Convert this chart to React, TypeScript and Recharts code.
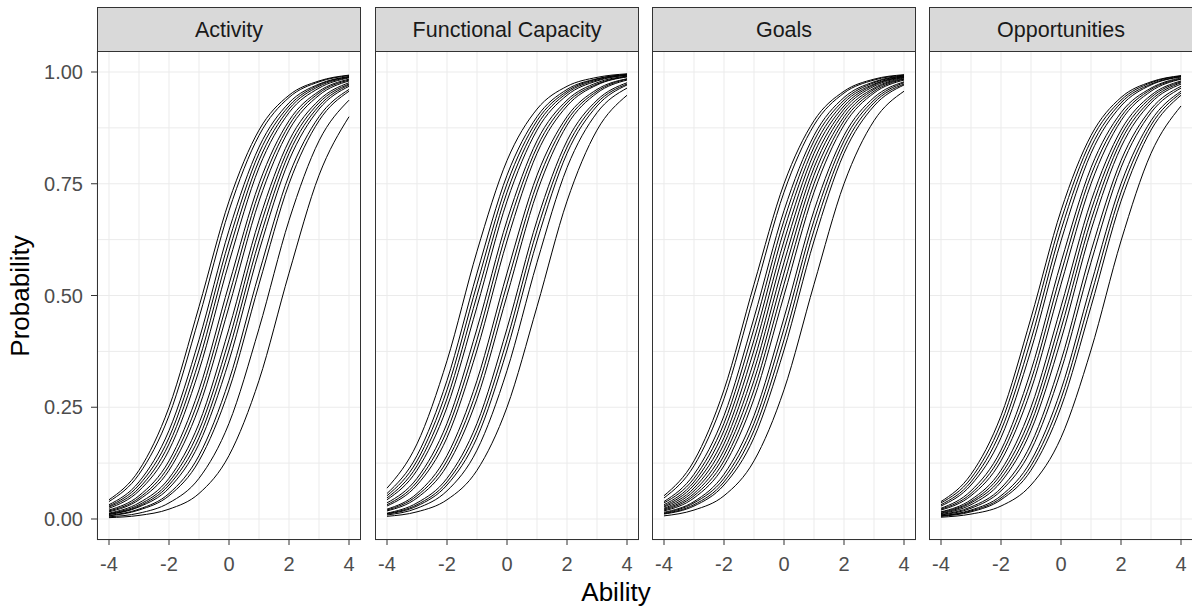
import React from 'react';
import { LineChart, Line, XAxis, YAxis, CartesianGrid } from 'recharts';

// Ability grid (x) at which each item characteristic curve was read
const abilities = [-4, -3, -2, -1, 0, 1, 2, 3, 4];
const facetNames = ['Activity', 'Functional Capacity', 'Goals', 'Opportunities'];
const xGridTicks = [-4, -3, -2, -1, 0, 1, 2, 3, 4];
const xLabelTicks = [-4, -2, 0, 2, 4];
const yGridTicks = [0, 0.125, 0.25, 0.375, 0.5, 0.625, 0.75, 0.875, 1];
const yLabelTicks = [0, 0.25, 0.5, 0.75, 1];

// Probability values per item (one array per curve), read at the abilities above
const activityCurves = [
  [0.043, 0.109, 0.250, 0.475, 0.711, 0.870, 0.948, 0.980, 0.993],
  [0.039, 0.100, 0.231, 0.450, 0.690, 0.858, 0.943, 0.978, 0.992],
  [0.032, 0.083, 0.198, 0.401, 0.646, 0.832, 0.931, 0.973, 0.990],
  [0.029, 0.076, 0.182, 0.378, 0.622, 0.818, 0.924, 0.971, 0.989],
  [0.027, 0.069, 0.168, 0.354, 0.599, 0.802, 0.917, 0.968, 0.988],
  [0.024, 0.063, 0.154, 0.332, 0.574, 0.786, 0.909, 0.964, 0.987],
  [0.020, 0.052, 0.130, 0.289, 0.525, 0.750, 0.891, 0.957, 0.984],
  [0.018, 0.047, 0.119, 0.269, 0.500, 0.731, 0.881, 0.953, 0.982],
  [0.016, 0.043, 0.109, 0.250, 0.475, 0.711, 0.870, 0.948, 0.980],
  [0.013, 0.036, 0.091, 0.214, 0.426, 0.668, 0.846, 0.937, 0.976],
  [0.012, 0.032, 0.083, 0.198, 0.401, 0.646, 0.832, 0.931, 0.973],
  [0.011, 0.029, 0.076, 0.182, 0.378, 0.622, 0.818, 0.924, 0.971],
  [0.010, 0.027, 0.069, 0.168, 0.354, 0.599, 0.802, 0.917, 0.968],
  [0.008, 0.022, 0.057, 0.142, 0.310, 0.550, 0.769, 0.900, 0.961],
  [0.007, 0.020, 0.052, 0.130, 0.289, 0.525, 0.750, 0.891, 0.957],
  [0.005, 0.013, 0.036, 0.091, 0.214, 0.426, 0.668, 0.846, 0.937],
  [0.003, 0.008, 0.022, 0.057, 0.142, 0.310, 0.550, 0.769, 0.900],
];

const functionalCurves = [
  [0.069, 0.168, 0.354, 0.599, 0.802, 0.917, 0.968, 0.988, 0.996],
  [0.057, 0.142, 0.310, 0.550, 0.769, 0.900, 0.961, 0.985, 0.995],
  [0.052, 0.130, 0.289, 0.525, 0.750, 0.891, 0.957, 0.984, 0.994],
  [0.047, 0.119, 0.269, 0.500, 0.731, 0.881, 0.953, 0.982, 0.993],
  [0.043, 0.109, 0.250, 0.475, 0.711, 0.870, 0.948, 0.980, 0.993],
  [0.036, 0.091, 0.214, 0.426, 0.668, 0.846, 0.937, 0.976, 0.991],
  [0.032, 0.083, 0.198, 0.401, 0.646, 0.832, 0.931, 0.973, 0.990],
  [0.029, 0.076, 0.182, 0.378, 0.622, 0.818, 0.924, 0.971, 0.989],
  [0.022, 0.057, 0.142, 0.310, 0.550, 0.769, 0.900, 0.961, 0.985],
  [0.020, 0.052, 0.130, 0.289, 0.525, 0.750, 0.891, 0.957, 0.984],
  [0.018, 0.047, 0.119, 0.269, 0.500, 0.731, 0.881, 0.953, 0.982],
  [0.013, 0.036, 0.091, 0.214, 0.426, 0.668, 0.846, 0.937, 0.976],
  [0.012, 0.032, 0.083, 0.198, 0.401, 0.646, 0.832, 0.931, 0.973],
  [0.011, 0.029, 0.076, 0.182, 0.378, 0.622, 0.818, 0.924, 0.971],
  [0.009, 0.024, 0.063, 0.154, 0.332, 0.574, 0.786, 0.909, 0.964],
  [0.006, 0.016, 0.043, 0.109, 0.250, 0.475, 0.711, 0.870, 0.948],
];

const goalsCurves = [
  [0.052, 0.130, 0.289, 0.525, 0.750, 0.891, 0.957, 0.984, 0.994],
  [0.047, 0.119, 0.269, 0.500, 0.731, 0.881, 0.953, 0.982, 0.993],
  [0.039, 0.100, 0.231, 0.450, 0.690, 0.858, 0.943, 0.978, 0.992],
  [0.036, 0.091, 0.214, 0.426, 0.668, 0.846, 0.937, 0.976, 0.991],
  [0.032, 0.083, 0.198, 0.401, 0.646, 0.832, 0.931, 0.973, 0.990],
  [0.029, 0.076, 0.182, 0.378, 0.622, 0.818, 0.924, 0.971, 0.989],
  [0.027, 0.069, 0.168, 0.354, 0.599, 0.802, 0.917, 0.968, 0.988],
  [0.024, 0.063, 0.154, 0.332, 0.574, 0.786, 0.909, 0.964, 0.987],
  [0.022, 0.057, 0.142, 0.310, 0.550, 0.769, 0.900, 0.961, 0.985],
  [0.020, 0.052, 0.130, 0.289, 0.525, 0.750, 0.891, 0.957, 0.984],
  [0.018, 0.047, 0.119, 0.269, 0.500, 0.731, 0.881, 0.953, 0.982],
  [0.015, 0.039, 0.100, 0.231, 0.450, 0.690, 0.858, 0.943, 0.978],
  [0.013, 0.036, 0.091, 0.214, 0.426, 0.668, 0.846, 0.937, 0.976],
  [0.012, 0.032, 0.083, 0.198, 0.401, 0.646, 0.832, 0.931, 0.973],
  [0.011, 0.029, 0.076, 0.182, 0.378, 0.622, 0.818, 0.924, 0.971],
  [0.007, 0.020, 0.052, 0.130, 0.289, 0.525, 0.750, 0.891, 0.957],
];

const opportunitiesCurves = [
  [0.039, 0.100, 0.231, 0.450, 0.690, 0.858, 0.943, 0.978, 0.992],
  [0.036, 0.091, 0.214, 0.426, 0.668, 0.846, 0.937, 0.976, 0.991],
  [0.032, 0.083, 0.198, 0.401, 0.646, 0.832, 0.931, 0.973, 0.990],
  [0.029, 0.076, 0.182, 0.378, 0.622, 0.818, 0.924, 0.971, 0.989],
  [0.024, 0.063, 0.154, 0.332, 0.574, 0.786, 0.909, 0.964, 0.987],
  [0.022, 0.057, 0.142, 0.310, 0.550, 0.769, 0.900, 0.961, 0.985],
  [0.020, 0.052, 0.130, 0.289, 0.525, 0.750, 0.891, 0.957, 0.984],
  [0.016, 0.043, 0.109, 0.250, 0.475, 0.711, 0.870, 0.948, 0.980],
  [0.015, 0.039, 0.100, 0.231, 0.450, 0.690, 0.858, 0.943, 0.978],
  [0.013, 0.036, 0.091, 0.214, 0.426, 0.668, 0.846, 0.937, 0.976],
  [0.012, 0.032, 0.083, 0.198, 0.401, 0.646, 0.832, 0.931, 0.973],
  [0.010, 0.027, 0.069, 0.168, 0.354, 0.599, 0.802, 0.917, 0.968],
  [0.009, 0.024, 0.063, 0.154, 0.332, 0.574, 0.786, 0.909, 0.964],
  [0.007, 0.020, 0.052, 0.130, 0.289, 0.525, 0.750, 0.891, 0.957],
  [0.007, 0.018, 0.047, 0.119, 0.269, 0.500, 0.731, 0.881, 0.953],
  [0.006, 0.016, 0.043, 0.109, 0.250, 0.475, 0.711, 0.870, 0.948],
  [0.004, 0.011, 0.029, 0.076, 0.182, 0.378, 0.622, 0.818, 0.924],
];

const facetCurves = [activityCurves, functionalCurves, goalsCurves, opportunitiesCurves];

const buildRows = (curves: number[][]) =>
  abilities.map((a, i) => {
    const row: Record<string, number> = { ability: a };
    curves.forEach((c, k) => {
      row['item' + k] = c[i];
    });
    return row;
  });

// Layout
const FONT = '"Liberation Sans", Arial, Helvetica, sans-serif';
const PANEL_LEFTS = [97, 375, 652, 929];
const PANEL_W = 264;
const PANEL_TOP = 51;
const PANEL_H = 489;
const STRIP_TOP = 7;
const X_AXIS_H = 69;
const Y_AXIS_W = 97;

const XTick = (props: any) => {
  const { x, y, payload } = props;
  const v = payload.value;
  if (!xLabelTicks.includes(v)) return <g />;
  return (
    <g>
      <line x1={x} x2={x} y1={y} y2={y + 5} stroke="#333333" strokeWidth={1} />
      <text x={x} y={y + 31} textAnchor="middle" fill="#4D4D4D" fontSize={20} fontFamily={FONT}>
        {String(v)}
      </text>
    </g>
  );
};

const YTick = (props: any) => {
  const { x, y, payload } = props;
  const v = payload.value;
  if (!yLabelTicks.includes(v)) return <g />;
  return (
    <g>
      <line x1={x - 6} x2={x} y1={y} y2={y} stroke="#333333" strokeWidth={1} />
      <text x={x - 14} y={y + 7} textAnchor="end" fill="#4D4D4D" fontSize={20} fontFamily={FONT}>
        {v.toFixed(2)}
      </text>
    </g>
  );
};

const Panel = ({ index }: { index: number }) => {
  const curves = facetCurves[index];
  const rows = buildRows(curves);
  const first = index === 0;
  const left = PANEL_LEFTS[index] - (first ? Y_AXIS_W : 0);
  const width = PANEL_W + (first ? Y_AXIS_W : 0);
  return (
    <div style={{ position: 'absolute', left, top: PANEL_TOP, width, height: PANEL_H + X_AXIS_H }}>
      <LineChart width={width} height={PANEL_H + X_AXIS_H} data={rows} margin={{ top: 0, right: 0, bottom: 0, left: 0 }}>
        <CartesianGrid stroke="#EBEBEB" strokeWidth={1} />
        <XAxis
          dataKey="ability"
          type="number"
          domain={[-4.4, 4.4]}
          ticks={xGridTicks}
          interval={0}
          height={X_AXIS_H}
          tickSize={0}
          tickMargin={0}
          axisLine={false}
          tickLine={false}
          tick={<XTick />}
          allowDataOverflow
        />
        <YAxis
          type="number"
          domain={[-0.047, 1.047]}
          ticks={yGridTicks}
          interval={0}
          width={Y_AXIS_W}
          hide={!first}
          tickSize={0}
          tickMargin={0}
          axisLine={false}
          tickLine={false}
          tick={<YTick />}
          allowDataOverflow
        />
        {curves.map((_, k) => (
          <Line
            key={k}
            type="monotone"
            dataKey={'item' + k}
            stroke="#000000"
            strokeWidth={1}
            dot={false}
            activeDot={false}
            isAnimationActive={false}
          />
        ))}
      </LineChart>
    </div>
  );
};

export default function App() {
  return (
    <div
      style={{
        position: 'absolute',
        left: 0,
        top: 0,
        width: 1192,
        height: 609,
        background: '#FFFFFF',
        overflow: 'hidden',
        fontFamily: FONT,
      }}
    >
      {facetNames.map((_, i) => (
        <Panel key={i} index={i} />
      ))}
      {facetNames.map((name, i) => (
        <React.Fragment key={name}>
          <div
            style={{
              position: 'absolute',
              left: PANEL_LEFTS[i],
              top: PANEL_TOP,
              width: PANEL_W,
              height: PANEL_H,
              border: '1px solid #333333',
              boxSizing: 'border-box',
              pointerEvents: 'none',
            }}
          />
          <div
            style={{
              position: 'absolute',
              left: PANEL_LEFTS[i],
              top: STRIP_TOP,
              width: PANEL_W,
              height: PANEL_TOP - STRIP_TOP + 1,
              background: '#D9D9D9',
              border: '1px solid #333333',
              boxSizing: 'border-box',
              display: 'flex',
              alignItems: 'center',
              justifyContent: 'center',
              fontSize: 21.5,
              color: '#1A1A1A',
              paddingTop: 2,
            }}
          >
            {name}
          </div>
        </React.Fragment>
      ))}
      <svg width={1192} height={609} style={{ position: 'absolute', left: 0, top: 0, pointerEvents: 'none' }}>
        <text x={616} y={601} textAnchor="middle" fontSize={26} fill="#000000" fontFamily={FONT}>
          Ability
        </text>
        <text
          x={0}
          y={0}
          transform="translate(29 296) rotate(-90)"
          textAnchor="middle"
          fontSize={26}
          fill="#000000"
          fontFamily={FONT}
        >
          Probability
        </text>
      </svg>
    </div>
  );
}
